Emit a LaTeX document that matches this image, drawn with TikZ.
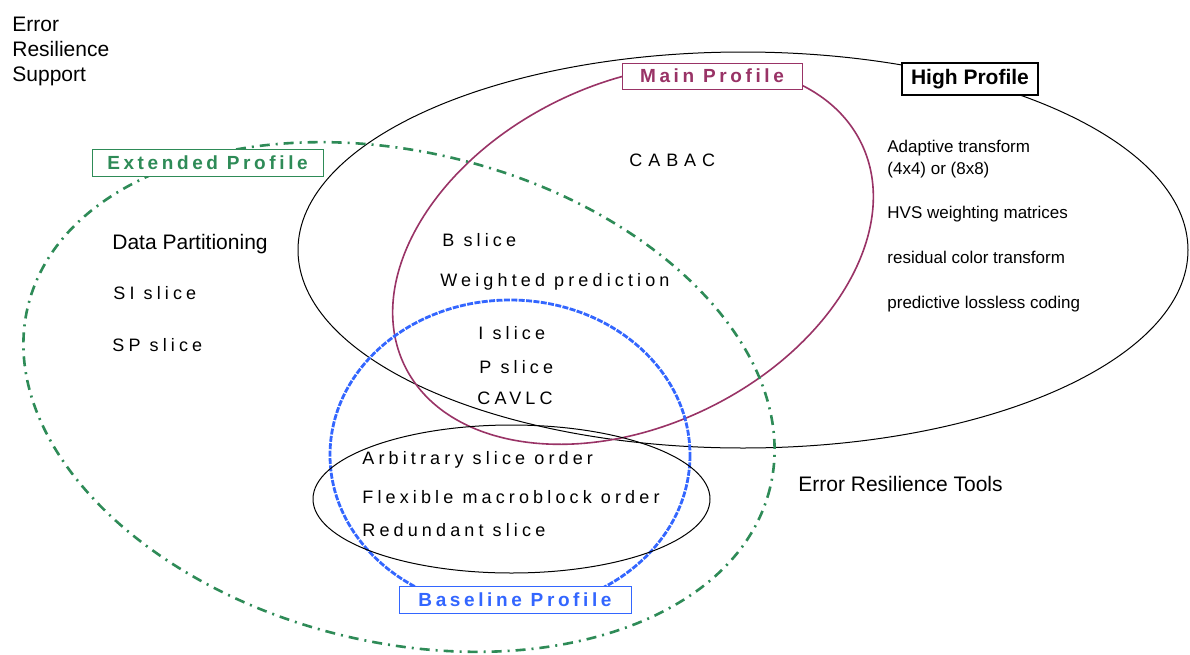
\documentclass[tikz,border=0pt]{standalone}
\usepackage{fontspec}
\setmainfont{Liberation Sans}
\newfontfamily\spaced[LetterSpace=23]{Liberation Sans}
\usepackage{tikz}
\usetikzlibrary{positioning}
\definecolor{extgreen}{RGB}{46,139,87}
\definecolor{mainred}{RGB}{153,51,102}
\definecolor{baseblue}{RGB}{51,102,255}

\begin{document}
\begin{tikzpicture}[x=0.5pt, y=-0.5pt, every node/.style={inner sep=0pt}]
% styles
\tikzstyle{item}=[anchor=base west, font=\spaced\fontsize{9pt}{11pt}\selectfont]
\tikzstyle{plain}=[anchor=base west, font=\fontsize{10.5pt}{12.5pt}\selectfont]
\tikzstyle{small}=[anchor=base west, font=\fontsize{8.5pt}{10pt}\selectfont]
\tikzstyle{profile}=[draw, fill=white, line width=0.5pt, font=\spaced\addfontfeature{LetterSpace=19}\bfseries\fontsize{9.5pt}{11pt}\selectfont, minimum height=13.5pt]
\tikzstyle{highedge}=[line width=0.5pt]
\tikzstyle{erredge}=[line width=0.5pt]
\tikzstyle{mainedge}=[mainred, line width=0.8pt]
\tikzstyle{extedge}=[extgreen, line width=1.3pt, dash pattern=on 5pt off 3pt on 1pt off 3pt]
\tikzstyle{baseedge}=[baseblue, line width=1.4pt, dash pattern=on 3pt off 0.7pt]

\fill[white] (0,0) rectangle (1190,654);
\useasboundingbox (0,0) rectangle (1190,654);

% profile outlines
\draw[highedge] (743,250) ellipse [x radius=445, y radius=198];
\draw[mainedge, rotate around={26:(633,254.5)}] (633,254.5) ellipse [x radius=254, y radius=171];
\draw[extedge, rotate around={-13.8:(399,397)}] (399,397) ellipse [x radius=382, y radius=245];
\draw[baseedge] (510,455) ellipse [x radius=180, y radius=155];
\draw[erredge] (511.5,499) ellipse [x radius=198.5, y radius=74];

% profile labels
\node[profile, draw=extgreen, text=extgreen, minimum width=115.5pt] (ext) at (207.5,162.5) {Extended Profile};
\node[profile, draw=mainred, text=mainred, minimum width=90pt, minimum height=13pt] (main) at (712,76) {Main Profile};
\node[profile, font=\bfseries\fontsize{10.5pt}{12pt}\selectfont, line width=0.7pt, minimum width=68pt, minimum height=16pt] (high) at (970,79) {High Profile};
\node[profile, draw=baseblue, text=baseblue, minimum width=116pt] (base) at (515,599.5) {Baseline Profile};

% error resilience
\foreach \w/\y [count=\i] in {Error/31, Resilience/56, Support/81}
  \node[plain] (ers\i) at (12,\y) {\w};
\node[plain] (ert) at (798,491) {Error Resilience Tools};

% extended only
\node[plain] (dp) at (112,249) {Data Partitioning};
\node[item] (si) at (113,299.5) {SI slice};
\node[item] (sp) at (112,351.5) {SP slice};

% main
\node[item, font=\spaced\addfontfeature{LetterSpace=33}\fontsize{9pt}{11pt}\selectfont] (cabac) at (629,166.5) {CABAC};
\node[item] (bs) at (442,246.5) {B slice};
\node[item] (wp) at (440,286.5) {Weighted prediction};

% baseline
\node[item] (is) at (478,339.5) {I slice};
\node[item] (ps) at (479,373.5) {P slice};
\node[item] (cavlc) at (477,404.5) {CAVLC};
\node[item] (aso) at (362,464.5) {Arbitrary slice order};
\node[item] (fmo) at (362,503.5) {Flexible macroblock order};
\node[item] (rs) at (362,536.5) {Redundant slice};

% high
\foreach \w/\y [count=\i] in {{Adaptive transform}/152, {(4x4) or (8x8)}/174, {HVS weighting matrices}/218, {residual color transform}/263, {predictive lossless coding}/308}
  \node[small] (hp\i) at (887,\y) {\w};

\end{tikzpicture}
\end{document}
